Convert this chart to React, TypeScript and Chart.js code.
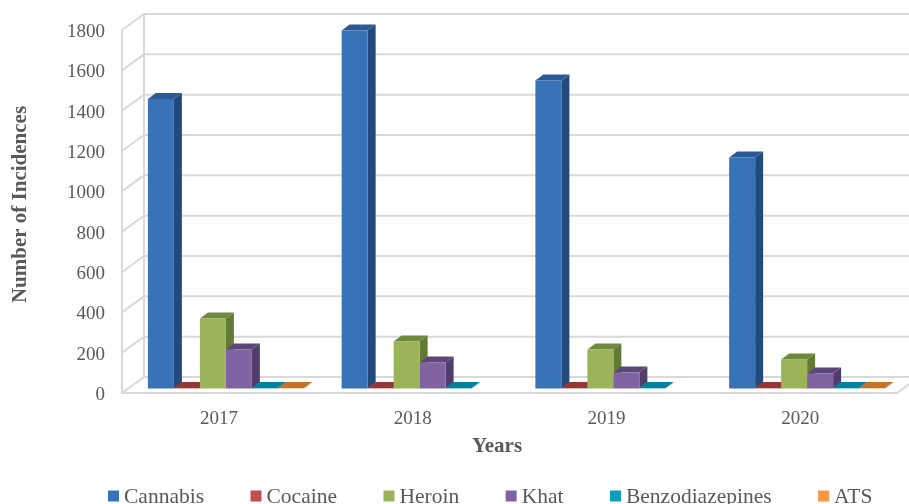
import React, { useEffect, useRef } from "react";
import { Chart, registerables } from "chart.js";

Chart.register(...registerables);

const years = ["2017", "2018", "2019", "2020"];
const cannabis = [1436, 1775, 1527, 1145];
const cocaine = [2, 2, 2, 2];
const heroin = [347, 233, 193, 144];
const khat = [193, 129, 79, 74];
const benzodiazepines = [2, 2, 2, 2];
const ats = [2, 0, 0, 2];
const yTicks = [0, 200, 400, 600, 800, 1000, 1200, 1400, 1600, 1800];

const seriesNames = ["Cannabis", "Cocaine", "Heroin", "Khat", "Benzodiazepines", "ATS"];
const faceColors = ["#3873B8", "#C0504D", "#9BB359", "#8064A2", "#0E9BBE", "#F79646"];
const sideColors = ["#234A7C", "#7F2F2D", "#627A36", "#513D6B", "#006A83", "#A85F22"];
const topColors = ["#2A5A96", "#953735", "#6E8A3D", "#5D4679", "#00829F", "#C4712A"];

const SERIF = "'Liberation Serif', serif";
const TEXT = "#595959";
const GRID = "#D9D9D9";
const WALL_DX = 22;
const WALL_DY = 16;
const BAR_DX = 8;
const BAR_DY = 6;

const scene3d = {
  id: "scene3d",
  beforeDatasetsDraw(chart: any) {
    const { ctx, chartArea, scales } = chart;
    const { left, right, bottom } = chartArea;
    const y = scales.y;
    ctx.save();
    ctx.strokeStyle = GRID;
    ctx.lineWidth = 2;
    const line = (pts: number[][]) => {
      ctx.beginPath();
      pts.forEach((p, i) => (i ? ctx.lineTo(p[0], p[1]) : ctx.moveTo(p[0], p[1])));
      ctx.stroke();
    };
    yTicks.forEach((t) => {
      const py = y.getPixelForValue(t);
      line([[left, py], [left + WALL_DX, py - WALL_DY], [right + WALL_DX, py - WALL_DY]]);
    });
    line([[left, y.getPixelForValue(1800)], [left, bottom], [right, bottom], [right + WALL_DX, bottom - WALL_DY]]);
    line([[left + WALL_DX, y.getPixelForValue(1800) - WALL_DY], [left + WALL_DX, bottom - WALL_DY]]);
    ctx.restore();

    ctx.save();
    ctx.translate(7, -4.5);
    chart.data.datasets.forEach((ds: any, di: number) => {
      chart.getDatasetMeta(di).data.forEach((bar: any, i: number) => {
        if (!ds.data[i]) return;
        const l = bar.x - bar.width / 2;
        const r = bar.x + bar.width / 2;
        ctx.fillStyle = sideColors[di];
        ctx.beginPath();
        ctx.moveTo(r, bar.y);
        ctx.lineTo(r + BAR_DX, bar.y - BAR_DY);
        ctx.lineTo(r + BAR_DX, bar.base - BAR_DY);
        ctx.lineTo(r, bar.base);
        ctx.closePath();
        ctx.fill();
        ctx.fillStyle = topColors[di];
        ctx.beginPath();
        ctx.moveTo(l, bar.y);
        ctx.lineTo(l + BAR_DX, bar.y - BAR_DY);
        ctx.lineTo(r + BAR_DX, bar.y - BAR_DY);
        ctx.lineTo(r, bar.y);
        ctx.closePath();
        ctx.fill();
      });
    });
  },
  afterDatasetsDraw(chart: any) {
    chart.ctx.restore();
  },
  afterDraw(chart: any) {
    const { ctx } = chart;
    ctx.save();
    ctx.fillStyle = TEXT;
    ctx.textBaseline = "middle";
    ctx.textAlign = "center";
    ctx.font = `bold 21px ${SERIF}`;
    ctx.fillText("Years", 497, 447);
    ctx.save();
    ctx.translate(21, 204.5);
    ctx.rotate(-Math.PI / 2);
    ctx.fillText("Number of Incidences", 0, 0);
    ctx.restore();

    ctx.textAlign = "left";
    ctx.font = `21.5px ${SERIF}`;
    let x = 108;
    chart.data.datasets.forEach((ds: any) => {
      ctx.fillStyle = ds.backgroundColor;
      ctx.fillRect(x, 490.5, 11, 11);
      ctx.fillStyle = TEXT;
      ctx.fillText(ds.label, x + 16, 497);
      x += 16 + ctx.measureText(ds.label).width + 46.5;
    });
    ctx.restore();
  },
};

export default function App() {
  const ref = useRef<HTMLCanvasElement>(null);
  useEffect(() => {
    const values = [cannabis, cocaine, heroin, khat, benzodiazepines, ats];
    const chart = new Chart(ref.current as HTMLCanvasElement, {
      type: "bar",
      data: {
        labels: years,
        datasets: values.map((data, i) => ({
          label: seriesNames[i],
          data,
          backgroundColor: faceColors[i],
          borderWidth: 0,
          clip: false as any,
          categoryPercentage: 0.805,
          barPercentage: 1,
        })),
      },
      options: {
        animation: false,
        responsive: false,
        layout: { padding: { top: 30, right: 12, left: 0, bottom: 0 } },
        plugins: { legend: { display: false }, tooltip: { enabled: false }, title: { display: false } },
        scales: {
          x: {
            grid: { display: false },
            border: { display: false },
            ticks: { color: TEXT, font: { family: SERIF, size: 19 }, padding: 7, maxRotation: 0 },
            afterFit: (s: any) => { s.height = 111; },
          },
          y: {
            min: 0,
            max: 1800,
            grid: { display: false, drawTicks: false },
            border: { display: false },
            ticks: {
              stepSize: 200,
              color: TEXT,
              font: { family: SERIF, size: 19 },
              padding: 17,
              labelOffset: 2,
              callback: (v: any) => String(v),
            },
            afterFit: (s: any) => { s.width = 122; },
          },
        },
      },
      plugins: [scene3d],
    });
    return () => chart.destroy();
  }, []);
  return (
    <div style={{ position: "fixed", left: 0, top: 0, width: 909, height: 504, background: "#fff", overflow: "hidden" }}>
      <canvas ref={ref} width={909} height={504} style={{ display: "block", filter: "blur(0.4px)" }} />
    </div>
  );
}
